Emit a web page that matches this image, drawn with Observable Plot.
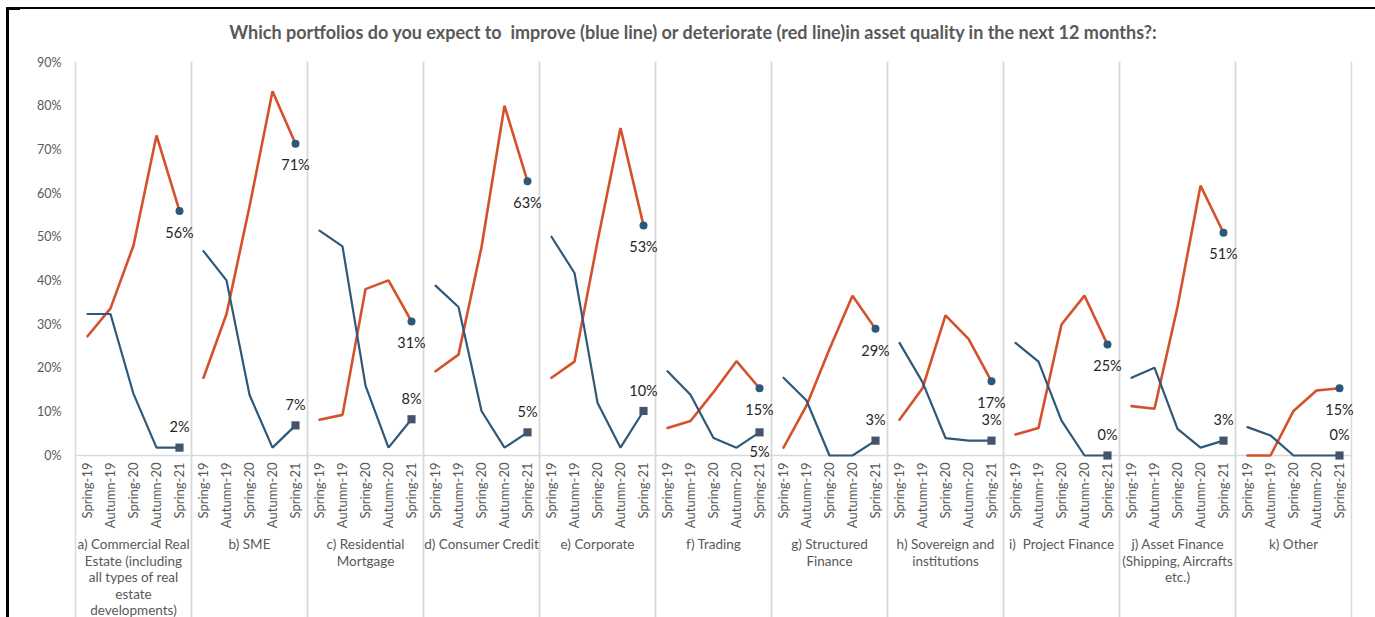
<!DOCTYPE html>
<html>
<head>
<meta charset="utf-8">
<script src="https://cdn.jsdelivr.net/npm/d3@7"></script>
<script src="https://cdn.jsdelivr.net/npm/@observablehq/plot@0.6"></script>
<style>
  html, body { margin: 0; padding: 0; background: #fff; }
  #page { position: relative; width: 1375px; height: 617px; overflow: hidden; background: #fff; font-family: Lato, "Open Sans", sans-serif; }
  #topline { position: absolute; left: 6px; top: 7px; width: 1369px; height: 2px; background: #000; }
  #leftline { position: absolute; left: 6px; top: 7px; width: 3px; height: 610px; background: #000; }
  #stub { position: absolute; left: 6px; top: 9px; width: 14px; height: 1px; background: #000; }
  #title { position: absolute; left: 0; top: 0; width: 1386px; height: 50px; line-height: 64px; text-align: center; font-weight: bold; font-size: 18px; color: #595959; white-space: pre; }
  #chart { position: absolute; left: 0; top: 50px; }
</style>
</head>
<body>
<div id="page">
  <div id="title">Which portfolios do you expect to  improve (blue line) or deteriorate (red line)in asset quality in the next 12 months?:</div>
  <div id="chart"></div>
  <div id="topline"></div>
  <div id="leftline"></div>
  <div id="stub"></div>
</div>
<script>
// ---- data ----
const periods = ["Spring-19", "Autumn-19", "Spring-20", "Autumn-20", "Spring-21"];
const portfolios = [
  "a) Commercial Real Estate (including all types of real estate developments)",
  "b) SME",
  "c) Residential Mortgage",
  "d) Consumer Credit",
  "e) Corporate",
  "f) Trading",
  "g) Structured Finance",
  "h) Sovereign and institutions",
  "i)  Project Finance",
  "j) Asset Finance (Shipping, Aircrafts etc.)",
  "k) Other"
];
// wrapped category tick labels (as in the original)
const portfolioLabels = [
  "a) Commercial Real\nEstate (including\nall types of real\nestate\ndevelopments)",
  "b) SME",
  "c) Residential\nMortgage",
  "d) Consumer Credit",
  "e) Corporate",
  "f) Trading",
  "g) Structured\nFinance",
  "h) Sovereign and\ninstitutions",
  "i)  Project Finance",
  "j) Asset Finance\n(Shipping, Aircrafts\netc.)",
  "k) Other"
];
// % of respondents expecting improvement (blue line)
const improve = [
  [32.4, 32.4, 14.1, 1.8, 1.8],
  [46.8, 40.1, 13.9, 1.8, 6.9],
  [51.5, 47.9, 16.0, 1.8, 8.3],
  [38.9, 34.0, 10.2, 1.8, 5.3],
  [50.1, 41.8, 12.1, 1.8, 10.2],
  [19.3, 13.9, 4.0, 1.8, 5.3],
  [17.8, 12.6, 0, 0, 3.4],
  [25.8, 16.8, 4.0, 3.4, 3.4],
  [25.8, 21.5, 8.0, 0, 0],
  [17.8, 20.1, 6.1, 1.8, 3.4],
  [6.5, 4.6, 0, 0, 0]
];
// % of respondents expecting deterioration (red line)
const deteriorate = [
  [27.3, 33.7, 48.1, 73.3, 56.0],
  [17.8, 32.4, 57.0, 83.4, 71.4],
  [8.2, 9.3, 38.1, 40.1, 30.7],
  [19.3, 23.1, 47.7, 80.1, 62.8],
  [17.8, 21.5, 49.0, 75.0, 52.7],
  [6.3, 7.9, 14.5, 21.6, 15.4],
  [1.8, 11.4, 24.4, 36.6, 29.0],
  [8.2, 15.4, 32.1, 26.7, 17.0],
  [4.8, 6.3, 30.0, 36.6, 25.4],
  [11.3, 10.7, 34.0, 61.8, 51.0],
  [0, 0, 10.2, 14.9, 15.4]
];
const yTicks = [0, 10, 20, 30, 40, 50, 60, 70, 80, 90];
// portfolios whose last "improve" label sits below its marker
const improveLabelBelow = ["f) Trading"];

// ---- build rows ----
function rows(series) {
  const out = [];
  portfolios.forEach((p, i) => periods.forEach((per, j) => out.push({portfolio: p, period: per, value: series[i][j]})));
  return out;
}
const blueRows = rows(improve);
const redRows = rows(deteriorate);
const last = periods[periods.length - 1];
const blueEnd = blueRows.filter(d => d.period === last);
const redEnd = redRows.filter(d => d.period === last);
const labelOf = new Map(portfolios.map((p, i) => [p, portfolioLabels[i]]));

const RED = "#d5512c", BLUE = "#305878", GRID = "#d9d9d9", TXT = "#595959";
const pct = d => Math.round(d.value) + "%";
const common = {fx: "portfolio", x: "period", y: "value"};

const chart = Plot.plot({
  width: 1375,
  height: 567,
  marginTop: 12,
  marginBottom: 162,
  marginLeft: 71,
  marginRight: 21,
  style: {fontFamily: "Lato, 'Open Sans', sans-serif", fontSize: "12px", color: TXT, background: "transparent", overflow: "visible"},
  fx: {domain: portfolios, padding: 0, label: null},
  x: {type: "point", domain: periods, padding: 0.5, label: null},
  y: {domain: [0, 90], label: null},
  marks: [
    Plot.frame({anchor: "left", stroke: GRID, strokeWidth: 1.5, strokeOpacity: 1, insetBottom: -162}),
    Plot.frame({anchor: "right", stroke: GRID, strokeWidth: 1.5, strokeOpacity: 1, insetBottom: -162}),
    Plot.ruleY([0], {stroke: GRID, strokeWidth: 1.5}),
    Plot.axisY({ticks: yTicks, tickFormat: d => d + "%", tickSize: 0, tickPadding: 14, fontSize: 12.5, fill: TXT, label: null}),
    Plot.axisX({tickRotate: -90, tickSize: 0, tickPadding: 7, fontSize: 13, fill: TXT, label: null}),
    Plot.axisFx({anchor: "bottom", tickSize: 0, tickPadding: 82, tickFormat: d => labelOf.get(d), lineHeight: 1.22, fontSize: 13.5, fill: TXT, label: null}),
    Plot.line(redRows, {...common, stroke: RED, strokeWidth: 2.6, strokeLinejoin: "miter"}),
    Plot.line(blueRows, {...common, stroke: BLUE, strokeWidth: 2.2, strokeLinejoin: "miter"}),
    Plot.dot(redEnd, {...common, r: 4, fill: "#2b5979", stroke: null}),
    Plot.dot(blueEnd, {...common, symbol: "square", r: 4.6, fill: "#44546a", stroke: null}),
    Plot.text(redEnd, {...common, text: pct, dy: 22, fontSize: 14.5, fill: "#262626"}),
    Plot.text(blueEnd.filter(d => !improveLabelBelow.includes(d.portfolio)), {...common, text: pct, dy: -20, fontSize: 14.5, fill: "#262626"}),
    Plot.text(blueEnd.filter(d => improveLabelBelow.includes(d.portfolio)), {...common, text: pct, dy: 20, fontSize: 14.5, fill: "#262626"})
  ]
});
document.getElementById("chart").appendChild(chart);
</script>
</body>
</html>
